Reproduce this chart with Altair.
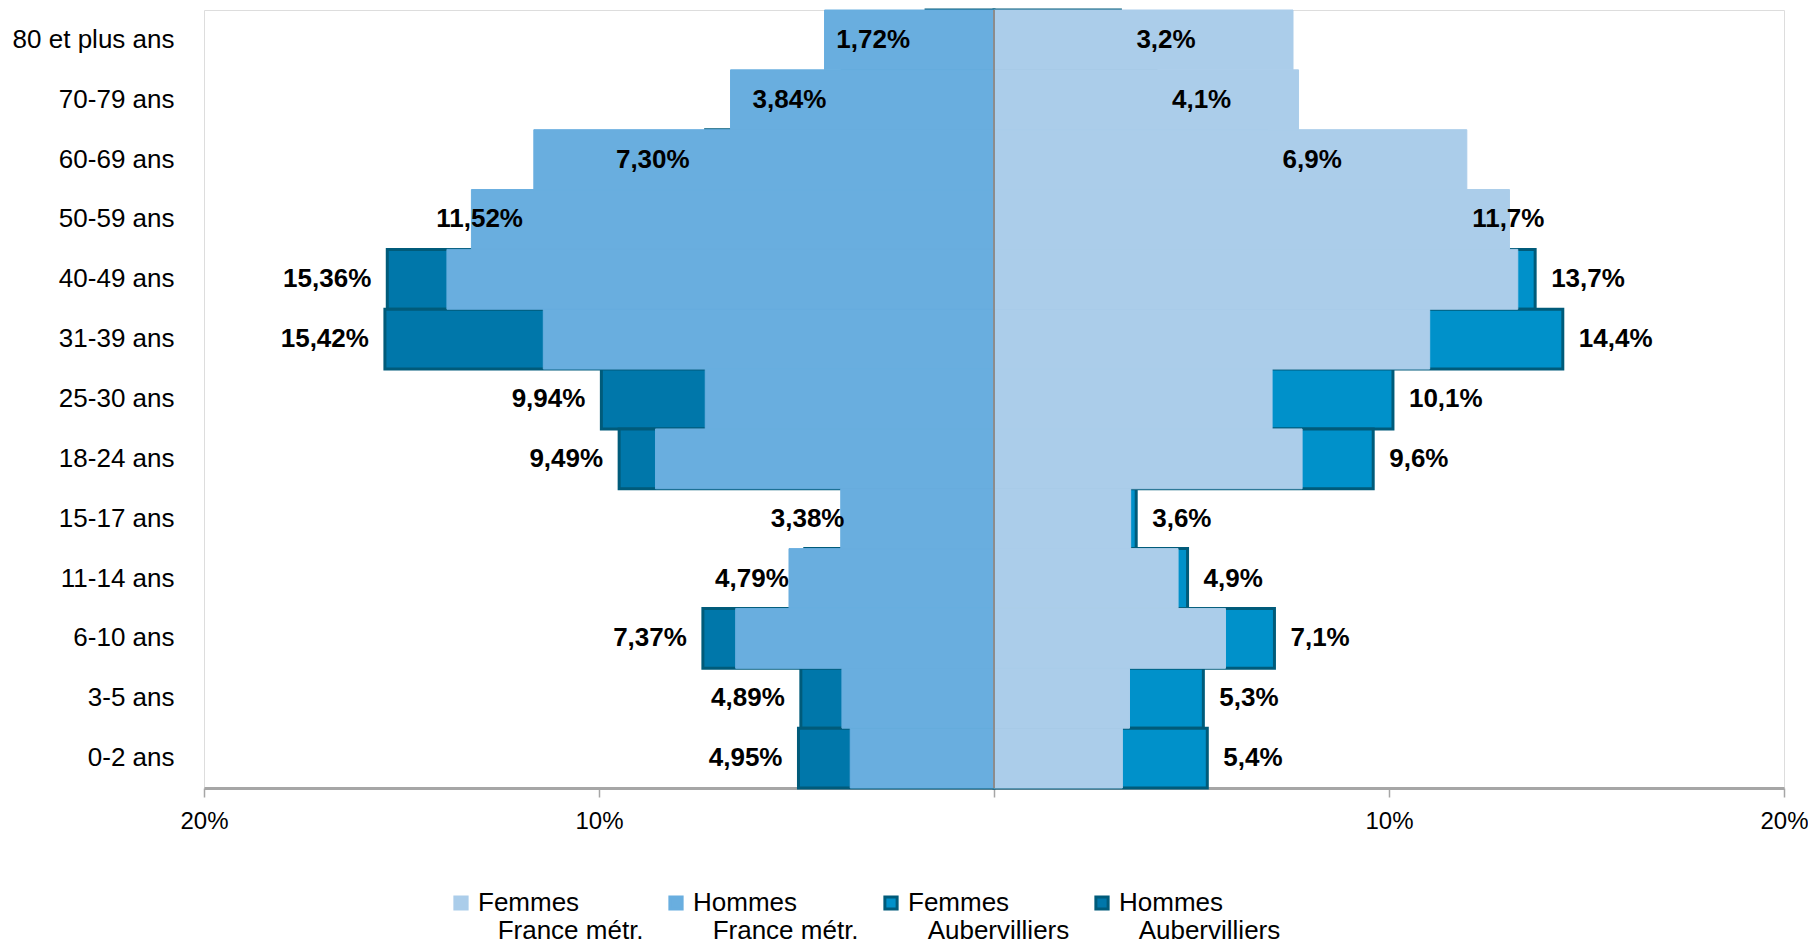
import altair as alt
import pandas as pd

ages = ["80 et plus ans", "70-79 ans", "60-69 ans", "50-59 ans", "40-49 ans",
        "31-39 ans", "25-30 ans", "18-24 ans", "15-17 ans", "11-14 ans",
        "6-10 ans", "3-5 ans", "0-2 ans"]
hommes_aub = [1.72, 3.84, 7.30, 11.52, 15.36, 15.42, 9.94, 9.49, 3.38, 4.79, 7.37, 4.89, 4.95]
femmes_aub = [3.2, 4.1, 6.9, 11.7, 13.7, 14.4, 10.1, 9.6, 3.6, 4.9, 7.1, 5.3, 5.4]
hommes_fr = [4.29, 6.67, 11.65, 13.23, 13.85, 11.41, 7.31, 8.57, 3.88, 5.19, 6.54, 3.85, 3.64]
femmes_fr = [7.57, 7.71, 11.97, 13.05, 13.26, 11.03, 7.04, 7.80, 3.46, 4.66, 5.86, 3.43, 3.25]

series = ["Femmes|France métr.", "Hommes|France métr.",
          "Femmes|Aubervilliers", "Hommes|Aubervilliers"]
fills = ["#ABCDEA", "#69AEDF", "#0091CA", "#0077AA"]
strokes = ["#ABCDEA", "#69AEDF", "#005B7A", "#005B7A"]

rows = []
for i, a in enumerate(ages):
    rows.append({"age": a, "serie": series[0], "value": femmes_fr[i], "grp": "fr"})
    rows.append({"age": a, "serie": series[1], "value": -hommes_fr[i], "grp": "fr"})
    rows.append({"age": a, "serie": series[2], "value": femmes_aub[i], "grp": "aub",
                 "label": f"{femmes_aub[i]:.1f}".replace(".", ",") + "%", "sex": "F"})
    rows.append({"age": a, "serie": series[3], "value": -hommes_aub[i], "grp": "aub",
                 "label": f"{hommes_aub[i]:.2f}".replace(".", ",") + "%", "sex": "H"})
df = pd.DataFrame(rows)

FONT = "Liberation Sans"
indent = "\u200b\u00a0\u00a0\u2009"

y_enc = alt.Y("age:N", sort=ages,
              scale=alt.Scale(paddingInner=0, paddingOuter=0),
              axis=alt.Axis(title=None, domain=False, ticks=False, labelFontSize=26,
                            labelPadding=30, labelColor="#000000", labelFont=FONT))
x_enc = alt.X("value:Q",
              scale=alt.Scale(domain=[-20, 20], nice=False, zero=True),
              axis=alt.Axis(title=None, grid=False, values=[-20, -10, 0, 10, 20],
                            labelExpr="datum.value == 0 ? '' : abs(datum.value) + '%'",
                            labelFlush=False,
                            domainColor="#A6A6A6", domainWidth=3, tickColor="#A6A6A6",
                            tickSize=9, tickWidth=1.5, labelFontSize=24, labelPadding=12,
                            labelColor="#000000", labelFont=FONT))

color_enc = alt.Color("serie:N",
                      scale=alt.Scale(domain=series, range=fills),
                      legend=alt.Legend(
                          title=None, orient="none", legendX=244, legendY=880,
                          direction="horizontal", columns=4, columnPadding=19,
                          symbolType="square", symbolSize=150, symbolStrokeWidth=3,
                          labelFontSize=26, labelFont=FONT, labelColor="#000000",
                          labelOffset=4, labelBaseline="middle", labelLimit=300,
                          labelExpr="[split(datum.label, '|')[0], '" + indent + "' + split(datum.label, '|')[1]]"))
stroke_enc = alt.Stroke("serie:N", scale=alt.Scale(domain=series, range=strokes), legend=None)

base = alt.Chart(df)

aub = base.transform_filter("datum.grp == 'aub'").mark_bar(strokeWidth=3).encode(
    x=x_enc, y=y_enc, color=color_enc, stroke=stroke_enc)
fr = base.transform_filter("datum.grp == 'fr'").mark_bar(strokeWidth=1).encode(
    x=x_enc, y=y_enc, color=color_enc, stroke=stroke_enc)

center = alt.Chart(pd.DataFrame({"value": [0]})).mark_rule(color="#8C8C8C", strokeWidth=2).encode(
    x=alt.X("value:Q"))

txt_h = base.transform_filter("datum.sex == 'H'").mark_text(
    align="right", baseline="middle", dx=-16, fontSize=26, fontWeight="bold", font=FONT,
    color="#000000").encode(x=x_enc, y=y_enc, text="label:N")
txt_f = base.transform_filter("datum.sex == 'F'").mark_text(
    align="left", baseline="middle", dx=16, fontSize=26, fontWeight="bold", font=FONT,
    color="#000000").encode(x=x_enc, y=y_enc, text="label:N")

chart = alt.layer(aub, fr, center, txt_h, txt_f).properties(
    width=1580, height=778,
    autosize=alt.AutoSizeParams(type="none"),
    padding={"left": 196, "top": 2, "right": 24, "bottom": 170},
).configure_view(stroke=None).configure(background="white")

chart.save("out.html", embed_options={"renderer": "svg", "actions": False})
